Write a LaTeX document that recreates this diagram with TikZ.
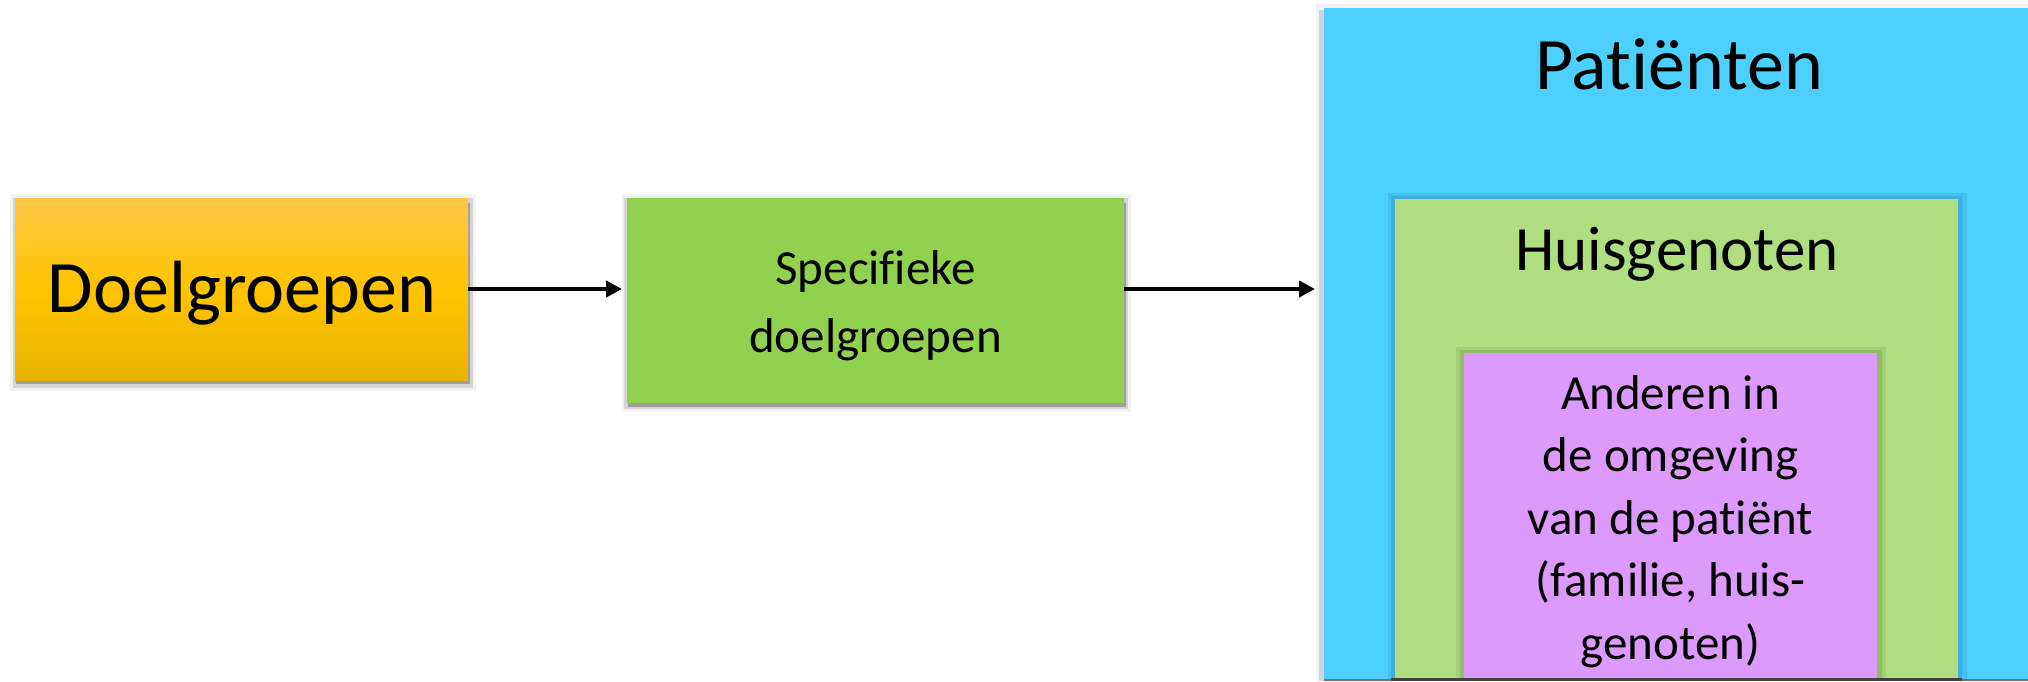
\documentclass[tikz,border=0pt]{standalone}
\usepackage{fontspec}
\setmainfont{Carlito}[Ligatures=NoCommon]
\usetikzlibrary{arrows.meta}
\definecolor{dgtop}{HTML}{FFC846}
\definecolor{dgmid}{HTML}{FFC300}
\definecolor{dgbot}{HTML}{E8B400}
\definecolor{specgreen}{HTML}{92D050}
\definecolor{patblue}{HTML}{4DCFFF}
\definecolor{patdark}{HTML}{3DB0DE}
\definecolor{patmed}{HTML}{45C0F0}
\definecolor{huisgreen}{HTML}{B0DD80}
\definecolor{huisdark}{HTML}{94BC68}
\definecolor{huismed}{HTML}{A3CE75}
\definecolor{andpurple}{HTML}{DC9AFC}
\begin{document}
\begin{tikzpicture}[x=1pt,y=-1pt,
  box/.style={rectangle, inner sep=0pt, outer sep=0pt, draw=none},
  lbl/.style={anchor=base, inner sep=0pt, outer sep=0pt, text=black},
  conn/.style={line width=4pt, draw=black, -{Triangle[length=16pt,width=16pt]}},
  shad1/.style={fill=black, opacity=0.05},
  shad2/.style={fill=black, opacity=0.12},
  shad3/.style={fill=black, opacity=0.25}]
\useasboundingbox (0,0) rectangle (2028,681);
\fill[white] (0,0) rectangle (2028,681);
% soft shadows of the left boxes
\fill[shad1] (10,194) rectangle (476,391);
\fill[shad2] (13,198) rectangle (473,388);
\fill[shad3] (16,203) rectangle (470,384);
\fill[shad1] (622,194) rectangle (1131,412);
\fill[shad2] (624,198) rectangle (1128,409);
\fill[shad3] (628,203) rectangle (1126,407);
% shadow of the blue panel
\fill[shad1] (1316,4) rectangle (2028,681);
\fill[shad2] (1319,10) rectangle (2028,681);
% boxes
\node[box, top color=dgtop, bottom color=dgbot, middle color=dgmid,
      minimum width=453pt, minimum height=182pt] (dg) at (241.5,289) {};
\node[box, fill=specgreen, minimum width=497pt, minimum height=205pt] (sp) at (875.5,300.5) {};
\node[box, fill=patblue, minimum width=704pt, minimum height=673pt] (pt) at (1676,344.5) {};
% glow around the green box
\fill[patmed] (1388,193) rectangle (1967,681);
\fill[patdark] (1391,196) rectangle (1962,681);
\node[box, fill=huisgreen, minimum width=563pt, minimum height=482pt] (hg) at (1676.5,440) {};
% glow around the purple box
\fill[huismed] (1456,347) rectangle (1886,681);
\fill[huisdark] (1460,350) rectangle (1882,681);
\node[box, fill=andpurple, minimum width=413pt, minimum height=328pt] (an) at (1670.5,517) {};
% dark rim at the bottom
\fill[black!75] (1391,678) rectangle (1962,681);
\fill[black!55] (1324,678.5) rectangle (1391,681);
\fill[black!55] (1962,678.5) rectangle (2028,681);
% texts
\node[lbl, font=\fontsize{74pt}{88pt}\selectfont] (tdg) at (242,312) {Doelgroepen};
\node[lbl, font=\fontsize{49pt}{59pt}\selectfont] (tsp1) at (875.5,284) {Specifieke};
\node[lbl, font=\fontsize{49pt}{59pt}\selectfont] (tsp2) at (875.5,352) {doelgroepen};
\node[lbl, font=\fontsize{74pt}{88pt}\selectfont] (tpt) at (1679,89) {Patiënten};
\node[lbl, font=\fontsize{63pt}{76pt}\selectfont] (thg) at (1677,270) {Huisgenoten};
\node[lbl, font=\fontsize{49pt}{59pt}\selectfont] (tan1) at (1670.5,409) {Anderen in};
\node[lbl, font=\fontsize{49pt}{59pt}\selectfont] (tan2) at (1670.5,471.5) {de omgeving};
\node[lbl, font=\fontsize{49pt}{59pt}\selectfont] (tan3) at (1670.5,534) {van de patiënt};
\node[lbl, font=\fontsize{49pt}{59pt}\selectfont] (tan4) at (1670.5,596.5) {(familie, huis-};
\node[lbl, font=\fontsize{49pt}{59pt}\selectfont] (tan5) at (1670.5,659) {genoten)};
% connectors
\draw[conn, shorten >=5pt] (dg.east) -- (dg.east -| sp.west);
\draw[conn, shorten >=9pt] (dg.east -| sp.east) -- (dg.east -| pt.west);
\end{tikzpicture}
\end{document}
